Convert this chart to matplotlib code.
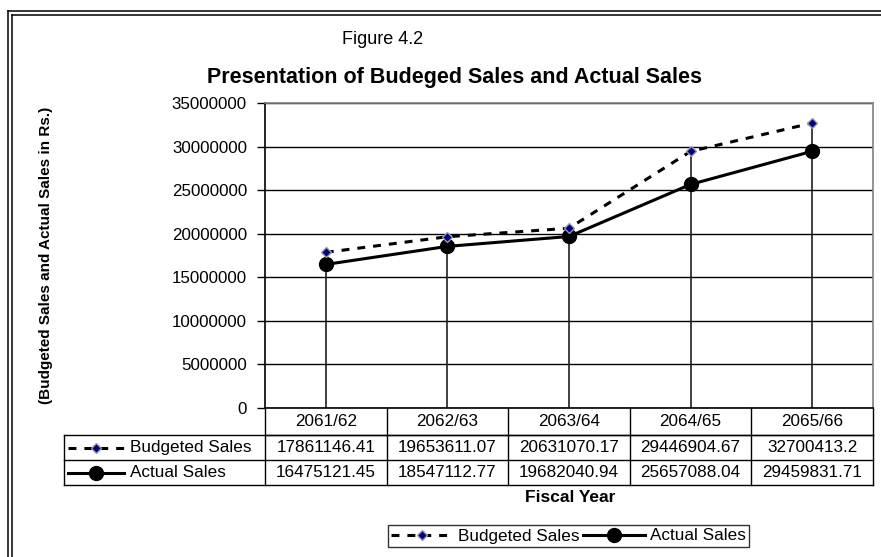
import matplotlib
matplotlib.use('Agg')
import matplotlib.pyplot as plt
import matplotlib.transforms as mtransforms
from matplotlib.lines import Line2D
import numpy as np

plt.rcParams['font.family'] = ['Liberation Sans', 'DejaVu Sans']

years = ['2061/62', '2062/63', '2063/64', '2064/65', '2065/66']
budgeted = [17861146.41, 19653611.07, 20631070.17, 29446904.67, 32700413.2]
actual = [16475121.45, 18547112.77, 19682040.94, 25657088.04, 29459831.71]
budgeted_txt = ['17861146.41', '19653611.07', '20631070.17', '29446904.67', '32700413.2']
actual_txt = ['16475121.45', '18547112.77', '19682040.94', '25657088.04', '29459831.71']
yticks = [0, 5000000, 10000000, 15000000, 20000000, 25000000, 30000000, 35000000]

W, H = 881, 557
fig = plt.figure(figsize=(W / 100, H / 100), dpi=100)

def fx(px):
    return px / W

def fy(py):
    return 1 - py / H

# plot area
ax = fig.add_axes([fx(265), fy(408), fx(873) - fx(265), fy(103) - fy(408)])
x = np.arange(len(years))

# drop lines from the higher series down to zero
tops = np.maximum(budgeted, actual)
ax.vlines(x, 0, tops, color='#202020', lw=1.2, zorder=2)

bud_style = dict(color='black', lw=2.2, linestyle=(0, (2.6, 2.6)),
                 marker='D', markersize=5, markerfacecolor='#000080',
                 markeredgecolor='#9a9aa8', markeredgewidth=1.0)
act_style = dict(color='black', lw=2.2, linestyle='-', marker='o',
                 markersize=10, markerfacecolor='black', markeredgecolor='black')

l_bud, = ax.plot(x, budgeted, label='Budgeted Sales', zorder=4, **bud_style)
l_act, = ax.plot(x, actual, label='Actual Sales', zorder=3, **act_style)

ax.set_xlim(-0.5, len(years) - 0.5)
ax.set_ylim(0, 35000000)
ax.set_yticks(yticks)
ax.set_yticklabels([str(v) for v in yticks])
ax.set_xticks([])
ax.yaxis.grid(True, color='black', lw=1.0)
ax.set_axisbelow(True)
ax.tick_params(axis='y', direction='out', length=6, width=1, labelsize=12.2,
               pad=7, color='black')
ax.spines['left'].set_color('black')
ax.spines['bottom'].set_color('black')
ax.spines['top'].set_color('#808080')
ax.spines['right'].set_color('#808080')
for s in ax.spines.values():
    s.set_linewidth(1.2)

# data table under the plot
def ay(py):
    return (408 - py) / 305

def axx(px):
    return (px - 265) / 608

tr = mtransforms.blended_transform_factory(ax.transData, ax.transAxes)
row_edges = [ay(435), ay(460), ay(485)]
lab_left = axx(64)
ax.plot([0, 1], [row_edges[0], row_edges[0]], color='black', lw=1.0,
        transform=ax.transAxes, clip_on=False)
for ye in row_edges:
    ax.plot([lab_left, 1], [ye, ye], color='black', lw=1.0,
            transform=ax.transAxes, clip_on=False)
for b in np.arange(len(years) + 1) - 0.5:
    ax.plot([b, b], [0, row_edges[-1]], color='black', lw=1.0, transform=tr,
            clip_on=False)
ax.plot([lab_left, lab_left], [row_edges[0], row_edges[-1]], color='black',
        lw=1.0, transform=ax.transAxes, clip_on=False)

cell_fs = 12.3
row_centers = [ay(421.5), ay(447.5), ay(472.5)]
for i in range(len(years)):
    ax.text(i, row_centers[0], years[i], transform=tr, ha='center', va='center',
            fontsize=cell_fs)
    ax.text(i, row_centers[1], budgeted_txt[i], transform=tr, ha='center',
            va='center', fontsize=cell_fs)
    ax.text(i, row_centers[2], actual_txt[i], transform=tr, ha='center',
            va='center', fontsize=cell_fs)

# row labels with legend keys
k0, k1 = axx(68), axx(124)
for yc, style, name in [(row_centers[1], bud_style, 'Budgeted Sales'),
                        (row_centers[2], act_style, 'Actual Sales')]:
    st = dict(style)
    mk = st.pop('marker')
    ax.add_line(Line2D([k0, k1], [yc, yc], transform=ax.transAxes, clip_on=False,
                       **{k: v for k, v in st.items() if not k.startswith('marker')}))
    ax.add_line(Line2D([(k0 + k1) / 2], [yc], transform=ax.transAxes,
                       clip_on=False, marker=mk, linestyle='none',
                       **{k: v for k, v in st.items() if k.startswith('marker')}))
    ax.text(axx(130), yc, name, transform=ax.transAxes, ha='left', va='center',
            fontsize=cell_fs)

# titles and labels
fig.text(fx(383), fy(39), 'Figure 4.2', ha='center', va='center', fontsize=13)
fig.text(fx(454), fy(77), 'Presentation of Budeged Sales and Actual Sales',
         ha='center', va='center', fontsize=15.5, fontweight='bold')
fig.text(fx(46), fy(255), '(Budgeted Sales and Actual Sales in Rs.)',
         rotation=90, ha='center', va='center', fontsize=11, fontweight='bold')
fig.text(fx(570), fy(498), 'Fiscal Year', ha='center', va='center',
         fontsize=12.5, fontweight='bold')

leg = fig.legend([l_bud, l_act], ['Budgeted Sales', 'Actual Sales'], loc='center',
                 bbox_to_anchor=(fx(568.5), fy(536)), ncol=2, frameon=True,
                 fancybox=False, edgecolor='black', fontsize=12.3,
                 handlelength=3.6, handletextpad=0.3, columnspacing=0.2,
                 borderpad=0.2, borderaxespad=0)
leg.get_frame().set_linewidth(1.0)

# double border along the top and left
for off in (0, 4):
    fig.add_artist(Line2D([fx(8 + off), fx(8 + off)], [fy(11 + off), 0],
                          color='black', lw=1.1))
    fig.add_artist(Line2D([fx(8 + off), 1], [fy(11 + off), fy(11 + off)],
                          color='black', lw=1.1))

fig.savefig('out.png', dpi=100)
